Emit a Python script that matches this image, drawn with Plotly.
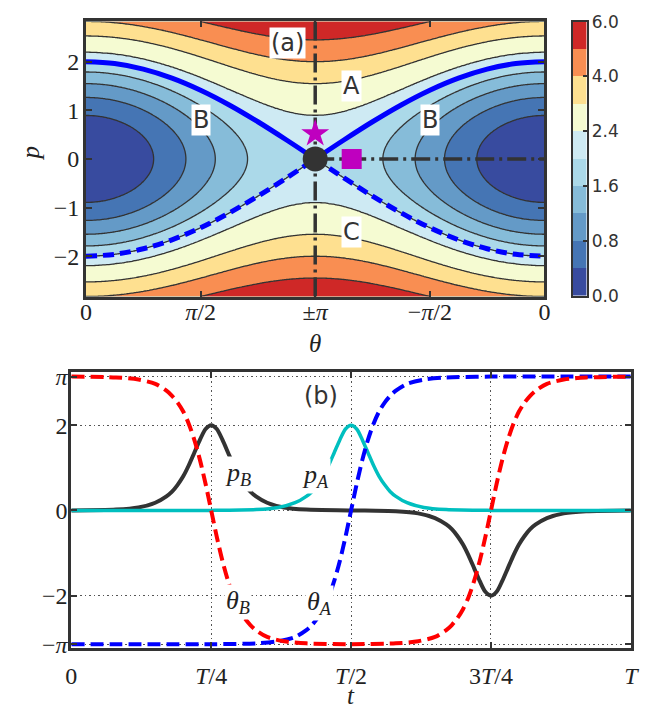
import numpy as np
import plotly.graph_objects as go

W, H = 666, 720
PI = np.pi

# ---------------- Panel (a): phase portrait ----------------
levels = [0.0, 0.4, 0.8, 1.2, 1.6, 2.0, 2.4, 3.2, 4.0, 5.0, 6.0]
band_colors = ["#384B9F", "#4575B4", "#649AC7", "#86BCD9", "#ABD9E9",
               "#CEEAF3", "#F5FBD2", "#FEE090", "#F98E52", "#CF2827"]
cbar_ticktext = ["0.0", "0.8", "1.6", "2.4", "4.0", "6.0"]
theta_tickvals = [0, PI / 2, PI, 3 * PI / 2, 2 * PI]
theta_ticktext = ["0", "<i>π</i>/2", "±<i>π</i>", "−<i>π</i>/2", "0"]
p_tickvals = [-2, -1, 0, 1, 2]
p_ticktext = ["−2", "−1", "0", "1", "2"]

theta_grid = np.linspace(0, 2 * PI, 241)
p_grid = np.linspace(-2.83, 2.83, 201)

sep_theta = [k * PI / 8 for k in range(17)]
sep_p_upper = [2.0, 1.962, 1.848, 1.663, 1.414, 1.111, 0.765, 0.390, 0.0,
               0.390, 0.765, 1.111, 1.414, 1.663, 1.848, 1.962, 2.0]
sep_p_lower = [-2.0, -1.962, -1.848, -1.663, -1.414, -1.111, -0.765, -0.390, 0.0,
               -0.390, -0.765, -1.111, -1.414, -1.663, -1.848, -1.962, -2.0]

vline_x = [PI, PI]
vline_y = [-2.83, 2.83]
hline_x = [PI, 2 * PI]
hline_y = [0.0, 0.0]
saddle_x, saddle_y = [PI], [0.0]
star_x, star_y = [PI], [0.52]
square_x, square_y = [PI + 0.5], [0.0]

# ---------------- Panel (b): time traces ----------------
t_B = [0, 0.08, 0.12, 0.15, 0.17, 0.18, 0.19, 0.20, 0.21, 0.22, 0.23, 0.24, 0.25,
       0.26, 0.27, 0.28, 0.29, 0.30, 0.31, 0.32, 0.33, 0.35, 0.38, 0.42, 0.50,
       0.58, 0.62, 0.65, 0.67, 0.68, 0.69, 0.70, 0.71, 0.72, 0.73, 0.74, 0.75,
       0.76, 0.77, 0.78, 0.79, 0.80, 0.81, 0.82, 0.83, 0.85, 0.88, 0.92, 1.00]
p_B = [0.00, 0.02, 0.07, 0.18, 0.33, 0.44, 0.60, 0.80, 1.06, 1.36, 1.66, 1.91, 2.00,
       1.91, 1.66, 1.36, 1.06, 0.80, 0.60, 0.44, 0.33, 0.18, 0.07, 0.02, 0.00,
       -0.02, -0.07, -0.18, -0.33, -0.44, -0.60, -0.80, -1.06, -1.36, -1.66, -1.91, -2.00,
       -1.91, -1.66, -1.36, -1.06, -0.80, -0.60, -0.44, -0.33, -0.18, -0.07, -0.02, 0.00]
theta_B = [3.14, 3.12, 3.07, 2.97, 2.81, 2.69, 2.53, 2.32, 2.03, 1.65, 1.18, 0.62, 0.00,
           -0.62, -1.18, -1.65, -2.03, -2.32, -2.53, -2.69, -2.81, -2.97, -3.07, -3.12, -3.14,
           -3.12, -3.07, -2.97, -2.81, -2.69, -2.53, -2.32, -2.03, -1.65, -1.18, -0.62, 0.00,
           0.62, 1.18, 1.65, 2.03, 2.32, 2.53, 2.69, 2.81, 2.97, 3.07, 3.12, 3.14]

t_A = [0, 0.25, 0.33, 0.37, 0.40, 0.42, 0.43, 0.44, 0.45, 0.46, 0.47, 0.48, 0.49, 0.50,
       0.51, 0.52, 0.53, 0.54, 0.55, 0.56, 0.57, 0.58, 0.60, 0.63, 0.67, 0.75, 1.00]
p_A = [0.00, 0.00, 0.02, 0.07, 0.18, 0.33, 0.44, 0.60, 0.80, 1.06, 1.36, 1.66, 1.91, 2.00,
       1.91, 1.66, 1.36, 1.06, 0.80, 0.60, 0.44, 0.33, 0.18, 0.07, 0.02, 0.00, 0.00]
theta_A = [-3.14, -3.14, -3.12, -3.07, -2.97, -2.81, -2.69, -2.53, -2.32, -2.03, -1.65, -1.18,
           -0.62, 0.00, 0.62, 1.18, 1.65, 2.03, 2.32, 2.53, 2.69, 2.81, 2.97, 3.07, 3.12, 3.14, 3.14]

t_tickvals = [0, 0.25, 0.5, 0.75, 1.0]
t_ticktext = ["0", "<i>T</i>/4", "<i>T</i>/2", "3<i>T</i>/4", "<i>T</i>"]
y_b_tickvals = [-PI, -2, 0, 2, PI]
y_b_ticktext = ["−<i>π</i>", "−2", "0", "2", "<i>π</i>"]

# ---------------- build figure ----------------
SANS = "DejaVu Sans"
SERIF = "Liberation Serif"
FRAME = "#333333"
TXT = "#222222"

TH, PP = np.meshgrid(theta_grid, p_grid)
Hmat = 0.5 * PP ** 2 + 1.0 - np.cos(TH)
Zidx = np.interp(Hmat, levels, np.arange(len(levels)))

fig = go.Figure()

fig.add_trace(go.Contour(
    x=theta_grid, y=p_grid, z=Zidx, autocontour=False,
    contours=dict(start=1, end=9, size=1, coloring="fill", showlines=True),
    line=dict(color="#333333", width=1.3),
    colorscale=[[k / 9, band_colors[k]] for k in range(10)],
    showscale=False, hoverinfo="skip", xaxis="x", yaxis="y"))

fig.add_trace(go.Scatter(x=vline_x, y=vline_y, mode="lines",
                         line=dict(color=FRAME, width=3.5, dash="19px,5px,3px,5px"),
                         xaxis="x", yaxis="y"))
fig.add_trace(go.Scatter(x=hline_x, y=hline_y, mode="lines",
                         line=dict(color=FRAME, width=3.5, dash="19px,5px,3px,5px"),
                         xaxis="x", yaxis="y"))

for sl in (slice(0, 9), slice(8, 17)):
    fig.add_trace(go.Scatter(x=sep_theta[sl], y=sep_p_upper[sl], mode="lines",
                             line=dict(color="#0000FF", width=5, shape="spline"),
                             xaxis="x", yaxis="y"))
    fig.add_trace(go.Scatter(x=sep_theta[sl], y=sep_p_lower[sl], mode="lines",
                             line=dict(color="#0000FF", width=5, shape="spline",
                                       dash="11px,6px"),
                             xaxis="x", yaxis="y"))

fig.add_trace(go.Scatter(x=saddle_x, y=saddle_y, mode="markers",
                         marker=dict(symbol="circle", size=25, color=FRAME),
                         xaxis="x", yaxis="y"))
fig.add_trace(go.Scatter(x=star_x, y=star_y, mode="markers",
                         marker=dict(symbol="star", size=21, color="#BF00BF"),
                         xaxis="x", yaxis="y"))
fig.add_trace(go.Scatter(x=square_x, y=square_y, mode="markers",
                         marker=dict(symbol="square", size=20, color="#BF00BF"),
                         xaxis="x", yaxis="y"))

# colorbar drawn as a heatmap strip
fig.add_trace(go.Heatmap(x=[0], y=[k + 0.5 for k in range(10)],
                         z=[[k] for k in range(10)], zmin=0, zmax=9,
                         colorscale=[[k / 9, band_colors[k]] for k in range(10)],
                         showscale=False, hoverinfo="skip", xaxis="x3", yaxis="y3"))

# panel (b)
fig.add_trace(go.Scatter(x=t_B, y=p_B, mode="lines",
                         line=dict(color=FRAME, width=4, shape="spline", smoothing=0.8),
                         xaxis="x2", yaxis="y2"))
fig.add_trace(go.Scatter(x=t_A, y=p_A, mode="lines",
                         line=dict(color="#00BFBF", width=3.5, shape="spline", smoothing=0.8),
                         xaxis="x2", yaxis="y2"))
fig.add_trace(go.Scatter(x=t_A, y=theta_A, mode="lines",
                         line=dict(color="#0000FF", width=4, shape="spline", smoothing=0.8,
                                   dash="13px,6px"),
                         xaxis="x2", yaxis="y2"))
fig.add_trace(go.Scatter(x=t_B, y=theta_B, mode="lines",
                         line=dict(color="#FF0000", width=4, shape="spline", smoothing=0.8,
                                   dash="13px,6px"),
                         xaxis="x2", yaxis="y2"))


def px(x, y):
    return x / W, 1 - y / H


axis_common = dict(showline=True, linewidth=3, linecolor=FRAME, mirror="ticks",
                   ticks="inside", ticklen=6, tickwidth=2, tickcolor=FRAME,
                   zeroline=False, tickfont=dict(family=SERIF, size=24, color=TXT))

fig.update_layout(
    width=W, height=H, margin=dict(l=0, r=0, t=0, b=0),
    paper_bgcolor="white", plot_bgcolor="white", showlegend=False,
    xaxis=dict(domain=[81.7 / W, 550 / W], range=[0, 2 * PI], tickmode="array",
               tickvals=theta_tickvals, ticktext=theta_ticktext, showgrid=False,
               anchor="y", **axis_common),
    yaxis=dict(domain=[1 - 294.7 / H, 1 - 11.7 / H], range=[-2.83, 2.83], tickmode="array",
               tickvals=p_tickvals, ticktext=p_ticktext, showgrid=False,
               anchor="x", **axis_common),
    xaxis2=dict(domain=[66.7 / W, 638.3 / W], range=[0, 1], tickmode="array",
                tickvals=t_tickvals, ticktext=t_ticktext, showgrid=True,
                gridcolor="#555555", gridwidth=1, griddash="1.5px,3px",
                anchor="y2", **axis_common),
    yaxis2=dict(domain=[1 - 656.7 / H, 1 - 372.7 / H], range=[-3.24, 3.24], tickmode="array",
                tickvals=y_b_tickvals, ticktext=y_b_ticktext, showgrid=True,
                gridcolor="#555555", gridwidth=1, griddash="1.5px,3px",
                anchor="x2", **axis_common),
    xaxis3=dict(domain=[579 / W, 593 / W], range=[-0.5, 0.5], showticklabels=False,
                ticks="", showline=True, linewidth=1.5, linecolor=FRAME, mirror=True,
                showgrid=False, zeroline=False, anchor="y3", fixedrange=True),
    yaxis3=dict(domain=[1 - 294 / H, 1 - 12 / H], range=[0, 10], side="right",
                tickmode="array", tickvals=[0, 2, 4, 6, 8, 10], ticktext=cbar_ticktext,
                ticks="inside", ticklen=4, tickwidth=1.5, tickcolor=FRAME,
                showline=True, linewidth=1.5, linecolor=FRAME, mirror=True,
                showgrid=False, zeroline=False, anchor="x3",
                tickfont=dict(family=SANS, size=17, color=FRAME)),
)

# pull tick labels closer to the frame
for name, off in (("xaxis", -8), ("yaxis", -1), ("xaxis2", 4), ("yaxis2", -4)):
    try:
        fig.layout[name].ticklabelstandoff = off
    except Exception:
        pass

annots = []
def label(text, x, y, family=SANS, size=24, bg="white", angle=0, color=FRAME):
    xp, yp = px(x, y)
    d = dict(text=text, x=xp, y=yp, xref="paper", yref="paper",
             showarrow=False, xanchor="center", yanchor="middle",
             font=dict(family=family, size=size, color=color),
             borderpad=1, textangle=angle)
    if bg is not None:
        d["bgcolor"] = bg
    annots.append(d)

label("(a)", 288, 34)
label("A", 353, 78)
label("C", 353, 228)
label("B", 199, 113)
label("B", 433, 113)
label("(b)", 322, 397)
label("<i>p</i><sub><i>B</i></sub>", 237, 477, family=SERIF, size=26, color=TXT)
label("<i>p</i><sub><i>A</i></sub>", 316, 479, family=SERIF, size=26, color=TXT)
label("<i>θ</i><sub><i>B</i></sub>", 237, 609, family=SERIF, size=26, color=TXT)
label("<i>θ</i><sub><i>A</i></sub>", 320, 610, family=SERIF, size=26, color=TXT)
label("<i>θ</i>", 316, 343, family=SERIF, size=25, bg=None, color=TXT)
label("<i>p</i>", 25, 147, family=SERIF, size=25, bg=None, angle=-90, color=TXT)
label("<i>t</i>", 352, 705, family=SERIF, size=25, bg=None, color=TXT)

fig.update_layout(annotations=annots)

fig.write_html("out.html")
